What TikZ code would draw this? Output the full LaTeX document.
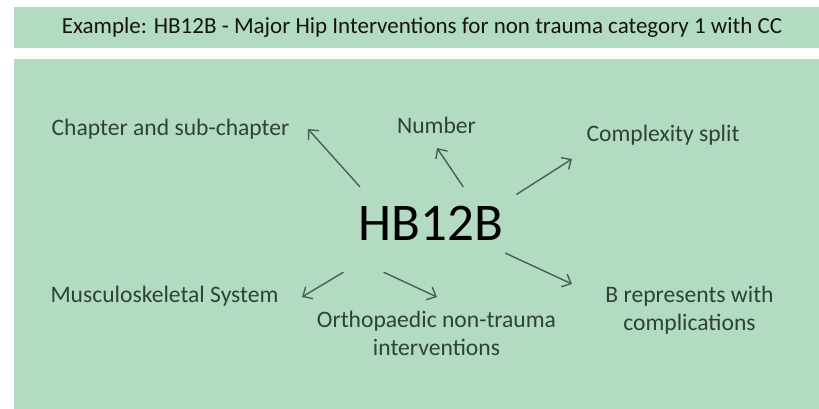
\documentclass[tikz,border=0pt]{standalone}
\usepackage{fontspec}
\setmainfont{Carlito}
\usetikzlibrary{arrows.meta, positioning}
\definecolor{panelgreen}{RGB}{179, 219, 194}
\definecolor{partgray}{RGB}{46, 66, 58}
\definecolor{arrowgray}{RGB}{70, 96, 88}

\begin{document}
\begin{tikzpicture}[
        x=1pt, y=-1pt,
        banner/.style={rectangle, fill=panelgreen, minimum width=816pt, minimum height=41pt, font=\fontsize{23}{27}\selectfont, text=black!92},
        partlabel/.style={align=center, inner sep=0pt, font=\fontsize{23.6}{28}\selectfont, text=partgray},
        codebox/.style={rectangle, inner sep=0pt, minimum width=182pt, minimum height=85pt, text height=37pt, text depth=15pt, font=\fontsize{53}{60}\selectfont},
        arrow/.style={-{Straight Barb[length=7.5pt, width=14pt]}, line width=1.4pt, draw=arrowgray}
    ]
        \useasboundingbox (0,0) rectangle (819,408);

        % Title bar
        \node[banner] (title) at (422,27.5) {Example: HB12B - Major Hip Interventions for non trauma category 1 with CC};

        % Panel
        \fill[panelgreen] (14,59) rectangle (830,420);

        % Code
        \node[codebox] (hb) at (431,229.5) {HB12B};

        % Parts of the code
        \node[partlabel, anchor=base] (chapter) at (170.5,135) {Chapter and sub-chapter};
        \node[partlabel, anchor=base] (number) at (436.5,133) {Number};
        \node[partlabel, anchor=base] (split) at (663,141) {Complexity split};
        \node[partlabel, anchor=base] (system) at (164.5,302) {Musculoskeletal System};
        \node[partlabel, anchor=base] (ortho) at (436.5,355) {Orthopaedic non-trauma\\interventions};
        \node[partlabel, anchor=base] (cc) at (689.5,330) {B represents with\\complications};

        % Arrow tips
        \coordinate (chapter tip) at (308,129);
        \coordinate (number tip) at (437,148);
        \coordinate (split tip) at (572,159);
        \coordinate (cc tip) at (572,284);
        \coordinate (system tip) at (302,297);
        \coordinate (ortho tip) at (437,297);

        % Arrows
        \draw[arrow] (hb.149.45) -- (chapter tip);
        \draw[arrow] (hb.53.03) -- (number tip);
        \draw[arrow, shorten <=-7pt] (hb.23) -- (split tip);
        \draw[arrow, shorten <=-18.7pt] (hb.-19) -- (cc tip);
        \draw[arrow] (hb.206.57) -- (system tip);
        \draw[arrow] (hb.222.73) -- (ortho tip);
    \end{tikzpicture}
\end{document}
